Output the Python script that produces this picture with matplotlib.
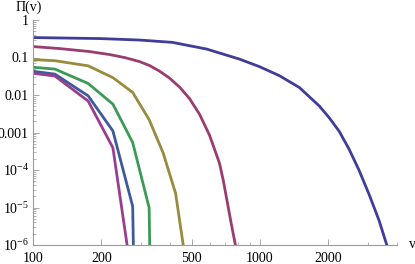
import matplotlib
matplotlib.use("Agg")
import matplotlib.pyplot as plt
from matplotlib.ticker import FixedLocator, NullFormatter

plt.rcParams['font.family'] = ['Liberation Serif', 'DejaVu Serif']
plt.rcParams['mathtext.fontset'] = 'custom'
plt.rcParams['mathtext.rm'] = 'Liberation Serif'
plt.rcParams['mathtext.it'] = 'Liberation Serif:italic'

# ---- data ----
v_blue = [100, 197, 295, 412, 582, 813, 995, 1218, 1492, 1826, 2021, 2236, 2474, 2737, 3029, 3352, 3624, 3785]
p_blue = [0.340, 0.320, 0.292, 0.253, 0.168, 0.0906, 0.0571, 0.0328, 0.01587, 0.00511, 0.00247,
          0.001077, 3.56e-4, 9.75e-5, 2.23e-5, 4.49e-6, 1.0e-6, 4e-7]

v_mag = [100, 131, 178, 218, 254, 295, 327, 361, 400, 443, 490, 542, 600, 664, 691, 720, 749, 780, 813]
p_mag = [0.1956, 0.173, 0.1438, 0.1195, 0.0994, 0.0777, 0.0607, 0.0433, 0.0281, 0.01616, 0.00796,
         0.00307, 8.42e-4, 1.50e-4, 4.96e-5, 1.28e-5, 3.51e-6, 1.0e-6, 2.5e-7]

v_olive = [100, 125, 175, 225, 275, 325, 375, 425, 475]
p_olive = [0.088, 0.082, 0.06, 0.029, 0.0117, 0.0022, 2.8e-4, 2.4e-5, 2.5e-7]

v_green = [100, 125, 175, 225, 275, 325, 375]
p_green = [0.055, 0.049, 0.0203, 0.0057, 5.4e-4, 9.8e-6, 1e-30]

v_blue2 = [100, 125, 175, 225, 275, 325]
p_blue2 = [0.043, 0.036, 0.0095, 0.0011, 1.07e-5, 1e-30]

v_purple = [100, 125, 175, 225, 275]
p_purple = [0.038, 0.032, 0.0069, 3.9e-4, 9.6e-8]

x_ticks = [100, 200, 500, 1000, 2000]
x_ticklabels = ["100", "200", "500", "1000", "2000"]
y_ticks = [1, 0.1, 0.01, 0.001, 1e-4, 1e-5, 1e-6]
y_ticklabels = ["1", "0.1", "0.01", "0.001", "10$^{-4}$", "10$^{-5}$", "10$^{-6}$"]

colors = ['#3f3d99', '#993d71', '#998b3d', '#3d9956', '#3d5a99', '#993d8f']

fig = plt.figure(figsize=(4.15, 2.64), dpi=100)
ax = fig.add_axes([33/415, 1-245/264, 364/415, 225/264])

series = [(v_blue, p_blue), (v_mag, p_mag), (v_olive, p_olive),
          (v_green, p_green), (v_blue2, p_blue2), (v_purple, p_purple)]
for (vx, py), c in zip(series, colors):
    ax.plot(vx, py, color=c, lw=2.0, solid_joinstyle='round', solid_capstyle='butt')

ax.set_xscale('log')
ax.set_yscale('log')
ax.set_xlim(100, 4020)
ax.set_ylim(1e-6, 1.0)

for s in ['top', 'right']:
    ax.spines[s].set_visible(False)
for s in ['left', 'bottom']:
    ax.spines[s].set_color('#9a9a9a')
    ax.spines[s].set_linewidth(0.8)

ax.xaxis.set_major_locator(FixedLocator(x_ticks))
ax.set_xticklabels(x_ticklabels)
ax.xaxis.set_minor_locator(FixedLocator([300, 400, 600, 700, 800, 900, 3000, 4000]))
ax.xaxis.set_minor_formatter(NullFormatter())

ax.yaxis.set_major_locator(FixedLocator(y_ticks))
ax.set_yticklabels(y_ticklabels)
minor_y = [m * 10.0**e for e in range(-6, 0) for m in range(2, 10)]
ax.yaxis.set_minor_locator(FixedLocator(minor_y))
ax.yaxis.set_minor_formatter(NullFormatter())

ax.tick_params(which='major', direction='in', length=4, width=0.6, color='#9a9a9a',
               labelsize=10, pad=3)
ax.tick_params(axis='x', which='major', pad=5)
ax.tick_params(which='minor', direction='in', length=2, width=0.5, color='#9a9a9a')

fig.text(16/415, 1-7/264, "Π(v)", ha='left', va='center', fontsize=10)
fig.text(412/415, 1-245/264, "v", ha='center', va='center', fontsize=10)

fig.savefig("out.png", dpi=100)
